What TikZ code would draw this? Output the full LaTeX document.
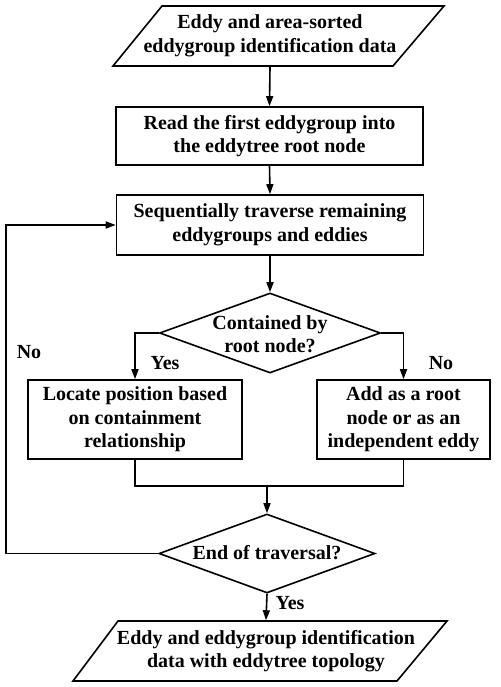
\documentclass[tikz,border=0pt]{standalone}
\usepackage{fontspec}
\setmainfont{Liberation Serif}
\usetikzlibrary{shapes.geometric,arrows.meta}
\begin{document}
\begin{tikzpicture}[x=1pt,y=-1pt,
  line width=1.6pt,
  every node/.style={font=\bfseries\fontsize{20}{23.5}\selectfont, align=center, inner sep=0pt},
  box/.style={draw, rectangle},
  arr/.style={-{Triangle[length=10pt,width=7pt]}},
  lbl/.style={font=\bfseries\fontsize{20}{23.5}\selectfont}
]
\useasboundingbox (0,0) rectangle (500,687);
% input parallelogram
\draw (113,66) -- (393,66) -- (444,6) -- (162,6) -- cycle;
\node[minimum height=60pt] (in) at (270,36) {Eddy and area-sorted\\eddygroup identification data};
% boxes
\node[box, minimum width=307pt, minimum height=58pt] (b2) at (269.5,136) {Read the first eddygroup into\\the eddytree root node};
\node[box, minimum width=307pt, minimum height=60pt] (b3) at (270,225) {Sequentially traverse remaining\\eddygroups and eddies};
% diamond 1
\node[draw, diamond, minimum width=221pt, minimum height=80pt, aspect=2.76] (d1) at (270,333) {};
\node at (270,334) {Contained by\\root node?};
% branches
\node[box, minimum width=214pt, minimum height=79pt] (L) at (135,419.5) {Locate position based\\on containment\\relationship};
\node[box, minimum width=173pt, minimum height=79pt] (R) at (403.5,419.5) {Add as a root\\node or as an\\independent eddy};
% diamond 2
\node[draw, diamond, minimum width=216pt, minimum height=79pt, aspect=2.73] (d2) at (267,553.5) {};
\node at (267,553) {End of traversal?};
% output parallelogram
\draw (73,681) -- (397,681) -- (447,621) -- (118,621) -- cycle;
\node[minimum height=60pt] (out) at (266,651) {Eddy and eddygroup identification\\data with eddytree topology};
\coordinate (m) at (267,486);
% connectors
\draw[arr] (in.south) -- (b2.north);
\draw[arr] (b2.south) -- (b3.north);
\draw[arr] (b3.south) -- (d1.north);
\draw[arr] (d1.west) -| (L.north);
\draw[arr] (d1.east) -| (R.north);
\draw (L.south) |- (m);
\draw (R.south) |- (m);
\draw[arr] (m) -- (d2.north);
\draw[arr] (d2.west) -- (6,553.5) |- (b3.west);
\draw[arr] (d2.south) -- (out.north);
% labels
\node[lbl] at (165,363) {Yes};
\node[lbl] at (441,363) {No};
\node[lbl] at (29,352) {No};
\node[lbl] at (290,603) {Yes};
\end{tikzpicture}
\end{document}
